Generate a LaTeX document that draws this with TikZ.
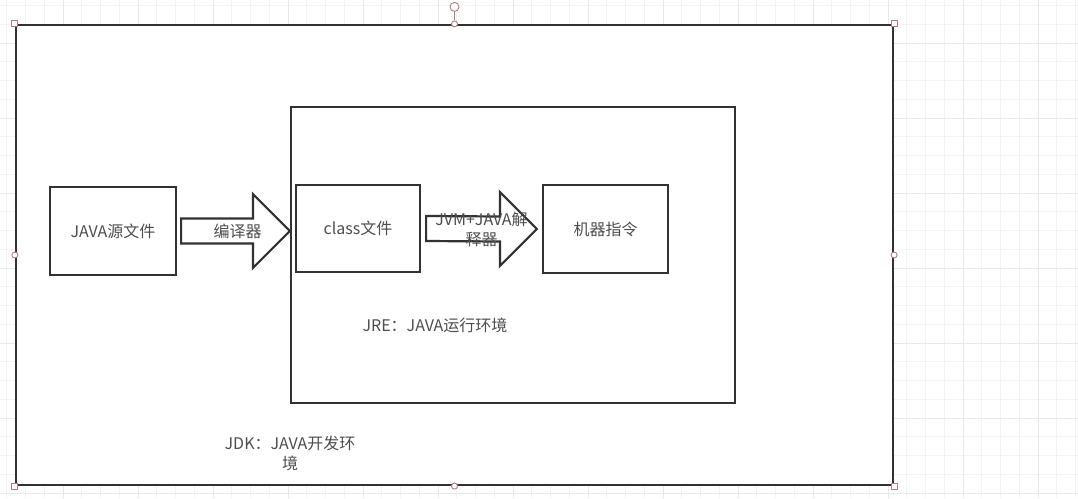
\documentclass[tikz,border=0pt]{standalone}
\usepackage{fontspec}
\setmainfont{Noto Sans CJK SC}
\usetikzlibrary{positioning,calc}

\definecolor{gridminor}{RGB}{243,243,246}
\definecolor{gridmajor}{RGB}{232,232,236}
\definecolor{linegray}{RGB}{50,50,50}
\definecolor{textgray}{RGB}{78,78,78}
\definecolor{handlecol}{RGB}{175,125,125}

\tikzset{
  label/.style={text=textgray, font=\fontsize{16pt}{20pt}\selectfont, align=center},
  box/.style={label, draw=linegray, line width=2.2pt, inner sep=0pt},
  frame/.style={draw=linegray, line width=2.2pt, fill=white, inner sep=0pt},
  bigarrow/.style={draw=linegray, line width=2.2pt, fill=white, line join=miter},
  sel handle/.style={draw=handlecol, fill=white, line width=0.9pt, inner sep=0pt, minimum size=6pt}
}

% block arrow: tail, tip
\newcommand{\fatarrow}[2]{
  \draw [bigarrow] ($(#1)+(0,12.5)$) -- ($(#2)+(-37,12.5)$) -- ($(#2)+(-37,37)$)
    -- (#2) -- ($(#2)+(-37,-37)$) -- ($(#2)+(-37,-12.5)$) -- ($(#1)+(0,-12.5)$) -- cycle;
}

\begin{document}
\begin{tikzpicture}[x=1pt, y=-1pt]

\useasboundingbox (0,0) rectangle (1078,498);

% background grid
\foreach \x in {6.75,25.5,...,1078}
  \draw [gridminor, line width=0.8pt] (\x,0) -- (\x,498);
\foreach \y in {5.5,24.25,...,498}
  \draw [gridminor, line width=0.8pt] (0,\y) -- (1078,\y);
\foreach \x in {63,138,...,1078}
  \draw [gridmajor, line width=0.9pt] (\x,0) -- (\x,498);
\foreach \y in {43,118,...,498}
  \draw [gridmajor, line width=0.9pt] (0,\y) -- (1078,\y);

\node [frame, minimum width=877pt, minimum height=460pt] (jdk) at (454.5,255) {};
\node [frame, minimum width=444pt, minimum height=296pt] (jre) at (513,255) {};

\node [box, minimum width=126pt, minimum height=88pt] (src) at (113,231) {JAVA源文件};
\node [box, minimum width=124pt, minimum height=87pt] (cls) at (358,228.5) {class文件};
\node [box, minimum width=125pt, minimum height=88pt] (mach) at (605.5,229) {机器指令};

\coordinate (tail-1) at ($(src.east)+(4,0)$);
\coordinate (tip-1) at (jre.west |- src.east);
\coordinate (tail-2) at ($(cls.east)+(5,0)$);
\coordinate (tip-2) at ($(mach.west)+(-5,0)$);

\fatarrow{tail-1}{tip-1}
\fatarrow{tail-2}{tip-2}

\node [label] (compiler) at ($(tail-1)!0.5!(tip-1)+(2,0)$) {编译器};
\node [label, inner sep=0pt] (interp) at ($(tail-2)!0.5!(tip-2)+(0,1)$) {JVM+JAVA解\\释器};

\node [label] (jre-text) at (435,325) {JRE：JAVA运行环境};
\node [label] (jdk-text) at (290,453) {JDK：JAVA开发环\\境};

% selection handles
\foreach \a [count=\i] in {north west, north east, south west, south east}
  \node [sel handle, rectangle] (corner-\i) at (jdk.\a) {};
\foreach \a [count=\i] in {north, south, east, west}
  \node [sel handle, circle] (side-\i) at (jdk.\a) {};
\node [sel handle, circle, minimum size=9pt] (rot) at ($(jdk.north)+(0,-17)$) {};
\draw [handlecol, line width=0.9pt] (rot) -- (side-1);

\end{tikzpicture}
\end{document}
